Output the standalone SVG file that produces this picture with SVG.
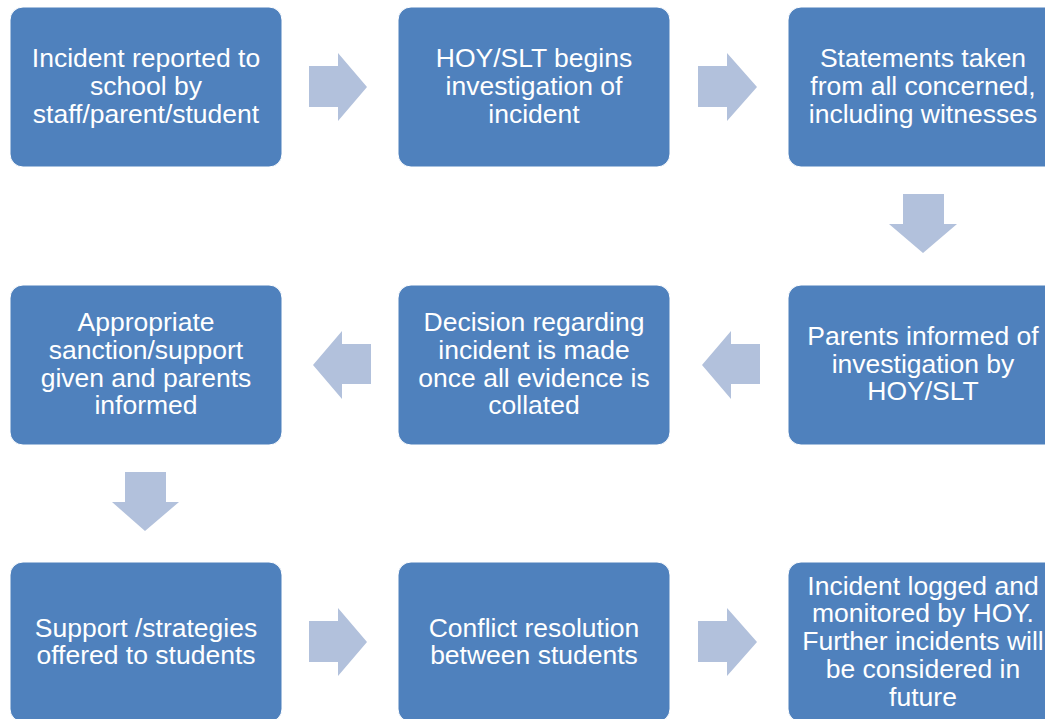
<svg xmlns="http://www.w3.org/2000/svg" width="1045" height="719" viewBox="0 0 1045 719">
<style>
.box{fill:#4F81BD;stroke:#ffffff;stroke-width:1}
.t{font-family:"Liberation Sans",Arial,sans-serif;font-size:26.5px;fill:#ffffff;text-anchor:middle}
.arr{fill:#B2C1DC}
</style>
<rect width="1045" height="719" fill="#ffffff"/>
<g id="connectors">
<polygon class="arr" points="309,66 338,66 338,53 367,87 338,121 338,107 309,107"/>
<polygon class="arr" points="698,66 727,66 727,53 757,87 727,121 727,107 698,107"/>
<polygon class="arr" points="903,194 944,194 944,224 957,224 923,253 889,224 903,224"/>
<polygon class="arr" points="760,344 731,344 731,331 702,365 731,399 731,384 760,384"/>
<polygon class="arr" points="371,344 342,344 342,331 313,365 342,399 342,384 371,384"/>
<polygon class="arr" points="125,472 166,472 166,502 179,502 145,531 112,502 125,502"/>
<polygon class="arr" points="309,621 338,621 338,608 367,642 338,676 338,662 309,662"/>
<polygon class="arr" points="698,621 727,621 727,608 757,642 727,676 727,662 698,662"/>
</g>
<g id="n1"><rect class="box" x="10" y="7" width="272" height="160" rx="13"/>
<text class="t"><tspan x="146" y="67">Incident reported to</tspan><tspan x="146" y="95">school by</tspan><tspan x="146" y="123">staff/parent/student</tspan></text></g>
<g id="n2"><rect class="box" x="398" y="7" width="272" height="160" rx="13"/>
<text class="t"><tspan x="534" y="67">HOY/SLT begins</tspan><tspan x="534" y="95">investigation of</tspan><tspan x="534" y="123">incident</tspan></text></g>
<g id="n3"><rect class="box" x="788" y="7" width="272" height="160" rx="13"/>
<text class="t"><tspan x="923" y="67">Statements taken</tspan><tspan x="923" y="95">from all concerned,</tspan><tspan x="923" y="123">including witnesses</tspan></text></g>
<g id="n4"><rect class="box" x="788" y="285" width="272" height="160" rx="13"/>
<text class="t"><tspan x="923" y="345">Parents informed of</tspan><tspan x="923" y="373">investigation by</tspan><tspan x="923" y="400">HOY/SLT</tspan></text></g>
<g id="n5"><rect class="box" x="398" y="285" width="272" height="160" rx="13"/>
<text class="t"><tspan x="534" y="331">Decision regarding</tspan><tspan x="534" y="359">incident is made</tspan><tspan x="534" y="387">once all evidence is</tspan><tspan x="534" y="414">collated</tspan></text></g>
<g id="n6"><rect class="box" x="10" y="285" width="272" height="160" rx="13"/>
<text class="t"><tspan x="146" y="331">Appropriate</tspan><tspan x="146" y="359">sanction/support</tspan><tspan x="146" y="387">given and parents</tspan><tspan x="146" y="414">informed</tspan></text></g>
<g id="n7"><rect class="box" x="10" y="562" width="272" height="160" rx="13"/>
<text class="t"><tspan x="146" y="637">Support /strategies</tspan><tspan x="146" y="664">offered to students</tspan></text></g>
<g id="n8"><rect class="box" x="398" y="562" width="272" height="160" rx="13"/>
<text class="t"><tspan x="534" y="637">Conflict resolution</tspan><tspan x="534" y="664">between students</tspan></text></g>
<g id="n9"><rect class="box" x="788" y="562" width="272" height="160" rx="13"/>
<text class="t"><tspan x="923" y="595">Incident logged and</tspan><tspan x="923" y="622">monitored by HOY.</tspan><tspan x="923" y="650">Further incidents will</tspan><tspan x="923" y="678">be considered in</tspan><tspan x="923" y="706">future</tspan></text></g>
</svg>
